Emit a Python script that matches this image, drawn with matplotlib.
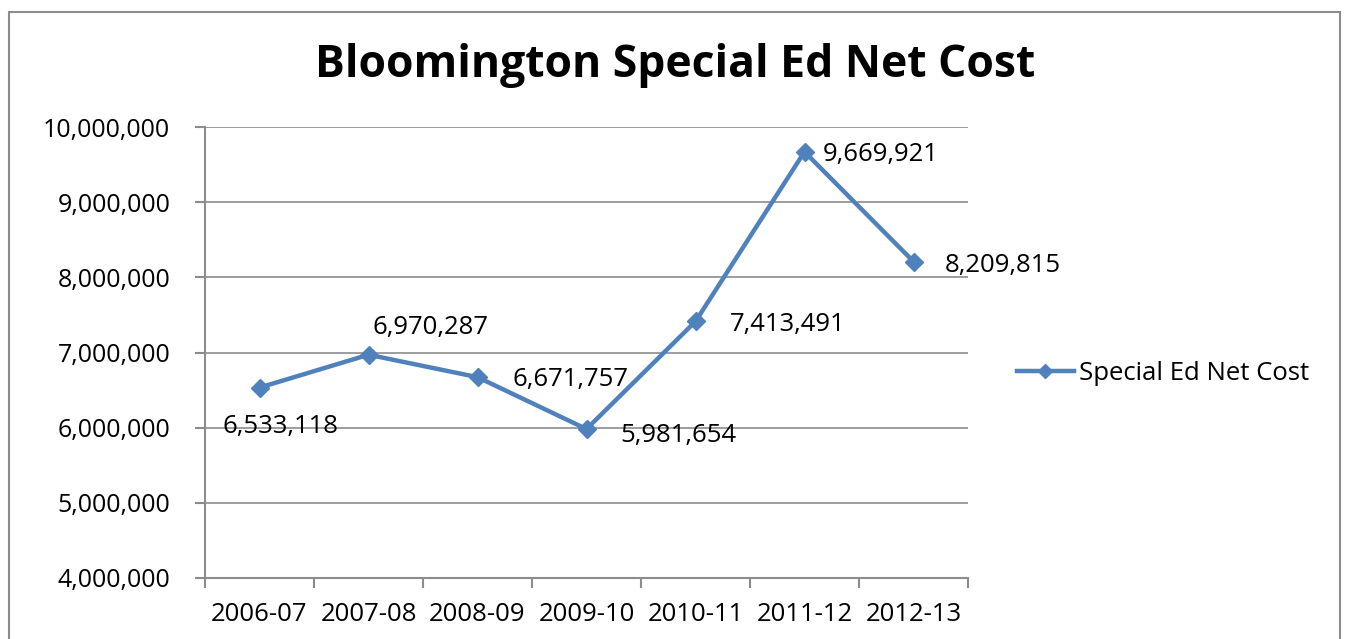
import matplotlib.pyplot as plt
from matplotlib.patches import Rectangle
from matplotlib.ticker import FuncFormatter, MultipleLocator

plt.rcParams['font.family'] = ['Open Sans', 'DejaVu Sans']

# data
years = ['2006-07', '2007-08', '2008-09', '2009-10', '2010-11', '2011-12', '2012-13']
net_cost = [6533118, 6970287, 6671757, 5981654, 7413491, 9669921, 8209815]
# label offsets in pixels (x, y) relative to each point
label_off = [(-37, -39), (4, 27), (35, -2), (34, -6), (34, -3), (18, -3), (31, -4)]

blue = '#4F81BD'
grey = '#8C8C8C'

fig = plt.figure(figsize=(13.45, 6.39), dpi=100)
fig.patches.append(Rectangle((9 / 1345, -0.05), 1331 / 1345, 1.05 - 12 / 639,
                             transform=fig.transFigure, fill=False,
                             edgecolor=grey, linewidth=1.5))

ax = fig.add_axes([205 / 1345, 61 / 639, 763 / 1345, 451 / 639])
x = list(range(len(years)))
line, = ax.plot(x, net_cost, color=blue, linewidth=3.2, marker='D',
                markersize=9, label='Special Ed Net Cost', zorder=3)

for xi, v, (dx, dy) in zip(x, net_cost, label_off):
    ax.annotate(f'{v:,}', (xi, v), xytext=(dx * 0.72, dy * 0.72),
                textcoords='offset points', fontsize=18.5, ha='left', va='center',
                color='black')

ax.set_xlim(-0.5, len(years) - 0.5)
ax.set_ylim(4000000, 10000000)
ax.yaxis.set_major_locator(MultipleLocator(1000000))
ax.yaxis.set_major_formatter(FuncFormatter(lambda v, p: f'{int(v):,}'))
ax.grid(axis='y', color=grey, linewidth=1.2)
ax.set_axisbelow(True)

ax.set_xticks([i - 0.5 for i in range(len(years) + 1)])
ax.set_xticklabels([])
ax.set_xticks(x, minor=True)
ax.set_xticklabels(years, minor=True, fontsize=18.5)
ax.tick_params(axis='x', which='minor', length=0, pad=17)
ax.tick_params(axis='x', which='major', length=7, color=grey, width=1.5)
ax.tick_params(axis='y', length=7, color=grey, width=1.5, labelsize=18, pad=18)

for s in ['top', 'right']:
    ax.spines[s].set_visible(False)
for s in ['left', 'bottom']:
    ax.spines[s].set_color(grey)
    ax.spines[s].set_linewidth(1.5)

fig.text(675 / 1345, 1 - 66 / 639, 'Bloomington Special Ed Net Cost',
         ha='center', va='center', fontsize=32, fontweight='bold')

fig.legend(handles=[line], loc='center left', bbox_to_anchor=(994 / 1345, 1 - 373 / 639),
           frameon=False, fontsize=18.5, handlelength=2.2, handletextpad=0.2,
           markerscale=0.8)

fig.savefig('out.png', dpi=100)
